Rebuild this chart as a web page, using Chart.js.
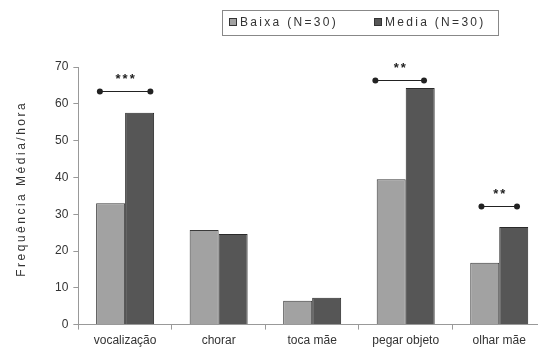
<!DOCTYPE html>
<html>
<head>
<meta charset="utf-8">
<script src="https://cdn.jsdelivr.net/npm/chart.js@4"></script>
<style>
  html, body { margin: 0; padding: 0; background: #fff; overflow: hidden; }
</style>
</head>
<body>
<canvas id="chart" width="566" height="356"></canvas>
<script>
const categories = ["vocalização", "chorar", "toca mãe", "pegar objeto", "olhar mãe"];
const baixa = [33, 25.7, 6.5, 39.5, 16.8];
const media = [57.6, 24.6, 7.3, 64.3, 26.5];
const seriesNames = ["Baixa (N=30)", "Media (N=30)"];
const yTicks = [0, 10, 20, 30, 40, 50, 60, 70];
const yTitle = "Frequência Média/hora";

// significance brackets: category index, level on the y scale, label
const sigIndex = [0, 3, 4];
const sigLevel = [63.5, 66.5, 32.2];
const sigLabel = ["***", "**", "**"];

const textColor = "#333";
const fontFamily = "'Liberation Sans', Arial, sans-serif";

const extras = {
  id: "extras",
  afterDraw(chart) {
    const ctx = chart.ctx;
    const area = chart.chartArea;
    ctx.save();
    // legend with frame
    ctx.strokeStyle = "#888";
    ctx.lineWidth = 1;
    ctx.strokeRect(222.5, 10.5, 276, 25);
    ctx.font = "12px " + fontFamily;
    ctx.letterSpacing = "2.3px";
    ctx.textBaseline = "middle";
    const xs = [229, 374];
    chart.data.datasets.forEach((ds, i) => {
      ctx.fillStyle = ds.backgroundColor;
      ctx.fillRect(xs[i], 18, 8, 8);
      ctx.strokeStyle = "#333";
      ctx.strokeRect(xs[i] + 0.5, 18.5, 7, 7);
      ctx.fillStyle = textColor;
      ctx.fillText(ds.label, xs[i] + 11, 23);
    });
    // y axis title
    ctx.translate(22, (area.top + area.bottom) / 2 - 7);
    ctx.rotate(-Math.PI / 2);
    ctx.textAlign = "center";
    ctx.letterSpacing = "2.5px";
    ctx.fillText(yTitle, 0, 0);
    ctx.restore();
  },
  afterDatasetsDraw(chart) {
    const ctx = chart.ctx;
    const x = chart.scales.x, y = chart.scales.y;
    const step = x.getPixelForValue(1) - x.getPixelForValue(0);
    const spans = [0.27, 0.26, 0.19];
    ctx.save();
    ctx.strokeStyle = "#222";
    ctx.fillStyle = "#222";
    ctx.lineWidth = 1;
    ctx.font = "bold 13px " + fontFamily;
    ctx.letterSpacing = "2px";
    ctx.textAlign = "center";
    ctx.textBaseline = "middle";
    sigIndex.forEach((c, i) => {
      const cx = x.getPixelForValue(c) - (c === 3 ? 6 : 0);
      const half = step * spans[i];
      const py = Math.round(y.getPixelForValue(sigLevel[i])) + 0.5;
      ctx.beginPath();
      ctx.moveTo(cx - half, py);
      ctx.lineTo(cx + half, py);
      ctx.stroke();
      [cx - half, cx + half].forEach(px => {
        ctx.beginPath();
        ctx.arc(px, py, 3, 0, Math.PI * 2);
        ctx.fill();
      });
      ctx.fillText(sigLabel[i], cx + 1, py - 12);
    });
    ctx.restore();
  }
};

new Chart(document.getElementById("chart"), {
  type: "bar",
  data: {
    labels: categories,
    datasets: [
      { label: seriesNames[0], data: baixa, backgroundColor: "#a2a2a2", borderColor: "#3a3a3a", borderWidth: 1 },
      { label: seriesNames[1], data: media, backgroundColor: "#565656", borderColor: "#2a2a2a", borderWidth: 1 }
    ]
  },
  options: {
    responsive: false,
    animation: false,
    barPercentage: 1,
    categoryPercentage: 0.62,
    layout: { padding: { top: 67, left: 50, right: 20, bottom: 4 } },
    plugins: { legend: { display: false }, tooltip: { enabled: false } },
    scales: {
      x: {
        grid: { drawOnChartArea: false, offset: true, tickLength: 5, color: "#999" },
        border: { color: "#999" },
        ticks: { color: textColor, font: { family: fontFamily, size: 12 }, padding: 4, maxRotation: 0, autoSkip: false }
      },
      y: {
        min: 0,
        max: 70,
        afterBuildTicks: s => { s.ticks = yTicks.map(v => ({ value: v })); },
        grid: { drawOnChartArea: false, tickLength: 5, color: "#999" },
        border: { color: "#999" },
        ticks: { color: textColor, font: { family: fontFamily, size: 12 }, padding: 5 }
      }
    }
  },
  plugins: [extras]
});
</script>
</body>
</html>
